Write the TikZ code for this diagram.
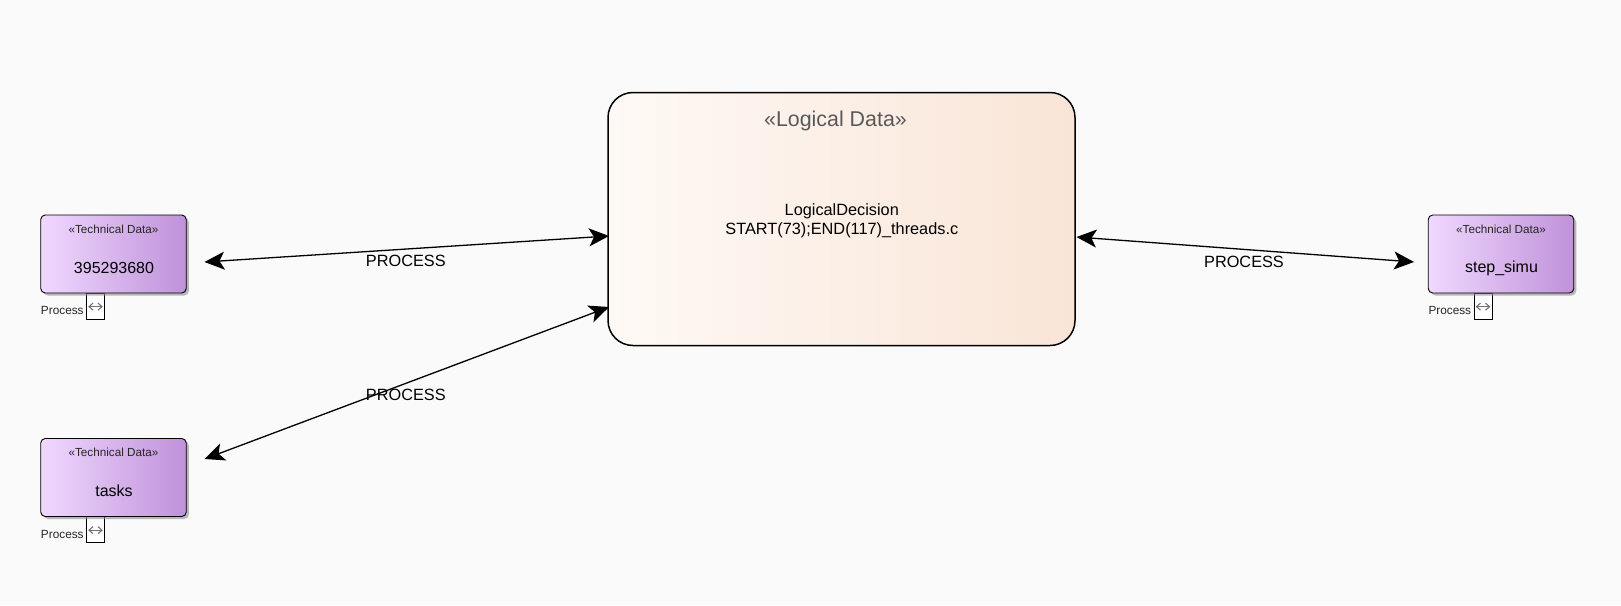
\documentclass[tikz,border=0pt]{standalone}
\usepackage{fontspec}
\setmainfont{Liberation Sans}
\usetikzlibrary{arrows.meta,shadows,calc}
\definecolor{pagebg}{HTML}{FAFAFA}
\definecolor{techL}{HTML}{F0D8FF}
\definecolor{techR}{HTML}{BF92D9}
\definecolor{logicL}{HTML}{FEF9F5}
\definecolor{logicR}{HTML}{F9E5D7}
\tikzset{
  x=1pt,y=-1pt,
  techbox/.style={draw=black,line width=0.9pt,rounded corners=4.5pt,left color=techL,right color=techR,shading angle=90,
    drop shadow={shadow xshift=2.5pt,shadow yshift=-2.5pt,fill=black!45,opacity=.6},minimum width=145.5pt,minimum height=78pt,inner sep=0pt},
  logicbox/.style={draw=black,line width=1.5pt,rounded corners=25pt,left color=logicL,right color=logicR,shading angle=90,minimum width=467pt,minimum height=253pt,inner sep=0pt},
  portbox/.style={draw=black,line width=0.7pt,fill=white,minimum width=18pt,minimum height=26pt,inner sep=0pt},
  stereo/.style={font=\fontsize{11.7}{14}\selectfont,text=black!85},
  porttext/.style={font=\fontsize{11.8}{14}\selectfont,text=black!85},
  proclabel/.style={font=\fontsize{16.3}{19}\selectfont},
  link/.style={draw=black,line width=1.3pt,{Stealth[length=20pt,width=18pt,inset=5pt]}-{Stealth[length=20pt,width=18pt,inset=5pt]}},
  portarrow/.style={draw=black!55,line width=1.1pt,{Straight Barb[length=4pt,width=7pt]}-{Straight Barb[length=4pt,width=7pt]}}
}
\newcommand{\technode}[7]{% name, cx, cy, label, port cx, text x, text y
  \node[portbox] (#1p) at (#5,#3+52) {};
  \node[techbox] (#1) at (#2,#3) {};
  \node[stereo] (#1s) at (#2,#3-25) {«Technical Data»};
  \node[font=\fontsize{16}{19}\selectfont] (#1n) at (#6,#3+#7) {#4};
  \node[porttext,anchor=east] (#1t) at ($(#1p.west)+(1,4.5)$) {Process};
  \coordinate (#1a) at ($(#1p.north west)+(2,14)$);
  \coordinate (#1b) at ($(#1p.north east)+(-2,14)$);
  \draw[portarrow] (#1a) -- (#1b);
}
\begin{document}
\begin{tikzpicture}
\useasboundingbox (0,0) rectangle (1621,605);
\fill[pagebg] (0,0) rectangle (1621,605);
\technode{one}{113.5}{254}{395293680}{95.5}{114}{14}
\technode{two}{113.5}{477.5}{tasks}{95.5}{114}{13.5}
\technode{three}{1501}{254}{step\_simu}{1483}{1501.5}{14.8}
\node[logicbox] (main) at (841.5,219) {};
\node[font=\fontsize{21.4}{25}\selectfont,text=black!65] (mainst) at (835.5,121) {«Logical Data»};
\node[font=\fontsize{16.3}{19.5}\selectfont,align=center] (mainn) at (841.8,221) {LogicalDecision\\START(73);END(117)\_threads.c};
\coordinate (oneend) at (204.5,262);
\coordinate (twoend) at (204.5,459);
\coordinate (threeend) at (1414,262);
\coordinate (mainw1) at (609,236);
\coordinate (mainw2) at (609,307);
\coordinate (maine1) at (1076.5,237);
\draw[link] (oneend) -- (mainw1);
\draw[link] (twoend) -- (mainw2);
\draw[link] (maine1) -- (threeend);
\node[proclabel] (l1) at (405.8,261) {PROCESS};
\node[proclabel] (l2) at (405.8,394.8) {PROCESS};
\node[proclabel] (l3) at (1244,261.5) {PROCESS};
\end{tikzpicture}
\end{document}
